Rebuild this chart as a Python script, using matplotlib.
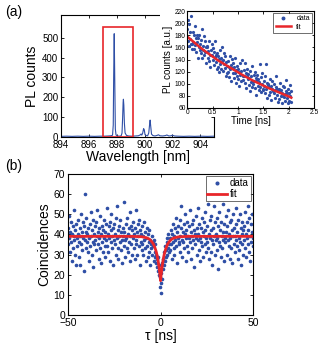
import matplotlib
matplotlib.use("Agg")
import matplotlib.pyplot as plt
from matplotlib.patches import Rectangle

plt.rcParams["font.family"] = ["Liberation Sans", "DejaVu Sans"]
plt.rcParams["xtick.direction"] = "in"
plt.rcParams["ytick.direction"] = "in"
plt.rcParams["axes.linewidth"] = 0.8

BLUE = "#2f4fa6"
RED = "#e8262a"

# --- (a) PL spectrum ---
wavelength_nm = [
    894.0, 894.4, 894.8, 895.2, 895.6, 896.0, 896.4, 896.8, 897.1, 897.4,
    897.6, 897.7, 897.75, 897.78, 897.82, 897.86, 897.9, 897.95, 898.05,
    898.2, 898.32, 898.38, 898.42, 898.46, 898.48, 898.51, 898.55, 898.6,
    898.7, 898.85, 899.1, 899.35, 899.55, 899.68, 899.75, 899.8, 899.86,
    899.93, 899.98, 900.03, 900.12, 900.22, 900.3, 900.36, 900.4, 900.44,
    900.5, 900.6, 900.75, 900.9, 901.0, 901.1, 901.3, 901.5, 901.6, 901.75,
    901.9, 902.0, 902.15, 902.4, 902.8, 903.2, 903.6, 904.0, 904.5, 905.0,
]
pl_counts = [
    3, 4, 3, 4, 3, 4, 3, 4, 4, 5,
    6, 9, 60, 300, 520, 280, 40, 10, 5,
    4, 6, 20, 90, 175, 190, 160, 70, 20,
    8, 5, 4, 5, 6, 10, 15, 9, 18,
    42, 36, 12, 7, 6, 20, 62, 85, 55,
    14, 7, 5, 8, 11, 6, 5, 7, 10, 5,
    6, 9, 5, 4, 3, 4, 3, 4, 3, 4,
]
box_wl = (897.0, 899.2)
box_top = 555

# --- (a) inset: PL decay ---
time_ns = [
    0.00, 0.01, 0.02, 0.03, 0.04, 0.05, 0.06, 0.07, 0.08, 0.09,
    0.10, 0.11, 0.12, 0.13, 0.14, 0.15, 0.16, 0.17, 0.18, 0.19,
    0.20, 0.21, 0.22, 0.23, 0.24, 0.25, 0.26, 0.27, 0.28, 0.29,
    0.30, 0.31, 0.32, 0.33, 0.34, 0.35, 0.36, 0.37, 0.38, 0.39,
    0.40, 0.41, 0.42, 0.43, 0.44, 0.45, 0.46, 0.47, 0.48, 0.49,
    0.50, 0.51, 0.52, 0.53, 0.54, 0.55, 0.56, 0.57, 0.58, 0.59,
    0.60, 0.61, 0.62, 0.63, 0.64, 0.65, 0.66, 0.67, 0.68, 0.69,
    0.70, 0.71, 0.72, 0.73, 0.74, 0.75, 0.76, 0.77, 0.78, 0.79,
    0.80, 0.81, 0.82, 0.83, 0.84, 0.85, 0.86, 0.87, 0.88, 0.89,
    0.90, 0.91, 0.92, 0.93, 0.94, 0.95, 0.96, 0.97, 0.98, 0.99,
    1.00, 1.01, 1.02, 1.03, 1.04, 1.05, 1.06, 1.07, 1.08, 1.09,
    1.10, 1.11, 1.12, 1.13, 1.14, 1.15, 1.16, 1.17, 1.18, 1.19,
    1.20, 1.21, 1.22, 1.23, 1.24, 1.25, 1.26, 1.27, 1.28, 1.29,
    1.30, 1.31, 1.32, 1.33, 1.34, 1.35, 1.36, 1.37, 1.38, 1.39,
    1.40, 1.41, 1.42, 1.43, 1.44, 1.45, 1.46, 1.47, 1.48, 1.49,
    1.50, 1.51, 1.52, 1.53, 1.54, 1.55, 1.56, 1.57, 1.58, 1.59,
    1.60, 1.61, 1.62, 1.63, 1.64, 1.65, 1.66, 1.67, 1.68, 1.69,
    1.70, 1.71, 1.72, 1.73, 1.74, 1.75, 1.76, 1.77, 1.78, 1.79,
    1.80, 1.81, 1.82, 1.83, 1.84, 1.85, 1.86, 1.87, 1.88, 1.89,
    1.90, 1.91, 1.92, 1.93, 1.94, 1.95, 1.96, 1.97, 1.98, 1.99,
    2.00, 2.01, 2.02, 2.03, 2.04, 2.05,
]
decay_counts = [
    190, 170, 205, 163, 198, 174, 185, 166, 212, 158,
    165, 185, 169, 180, 158, 196, 164, 175, 152, 181,
    169, 143, 175, 161, 180, 155, 166, 150, 172, 190,
    143, 163, 156, 179, 147, 170, 152, 160, 134, 161,
    163, 143, 154, 137, 171, 148, 127, 155, 147, 166,
    139, 159, 131, 152, 144, 170, 136, 147, 124, 150,
    146, 128, 141, 119, 155, 133, 142, 125, 138, 160,
    121, 140, 133, 150, 126, 145, 112, 136, 129, 118,
    137, 120, 128, 111, 146, 125, 131, 104, 126, 141,
    118, 135, 110, 127, 142, 117, 123, 102, 130, 113,
    125, 108, 119, 96, 134, 114, 121, 105, 140, 112,
    106, 122, 113, 135, 101, 117, 93, 112, 125, 108,
    116, 98, 109, 88, 121, 103, 112, 95, 130, 104,
    99, 114, 104, 120, 93, 109, 82, 106, 115, 97,
    108, 90, 103, 132, 95, 111, 86, 100, 118, 92,
    89, 105, 96, 113, 84, 133, 92, 101, 76, 98,
    99, 82, 94, 108, 86, 97, 73, 91, 104, 88,
    84, 100, 90, 77, 95, 112, 81, 92, 70, 88,
    92, 75, 87, 101, 80, 89, 68, 85, 97, 79,
    78, 94, 83, 71, 88, 106, 76, 84, 69, 91,
    85, 72, 98, 79, 70, 88,
]
decay_fit_t = [0.0, 0.1, 0.2, 0.3, 0.4, 0.5, 0.6, 0.7, 0.8, 0.9, 1.0,
               1.1, 1.2, 1.3, 1.4, 1.5, 1.6, 1.7, 1.8, 1.9, 2.0, 2.05]
decay_fit = [178, 171, 164, 157, 151, 145, 139, 134, 129, 124, 119,
             114, 109.5, 105, 101, 97, 93, 89.5, 86, 82.5, 79, 77]

# --- (b) g2 coincidences ---
tau_ns = [
    -50, -49.75, -49.5, -49.25, -49, -48.75, -48.5, -48.25, -48, -47.75,
    -47.5, -47.25, -47, -46.75, -46.5, -46.25, -46, -45.75, -45.5, -45.25,
    -45, -44.75, -44.5, -44.25, -44, -43.75, -43.5, -43.25, -43, -42.75,
    -42.5, -42.25, -42, -41.75, -41.5, -41.25, -41, -40.75, -40.5, -40.25,
    -40, -39.75, -39.5, -39.25, -39, -38.75, -38.5, -38.25, -38, -37.75,
    -37.5, -37.25, -37, -36.75, -36.5, -36.25, -36, -35.75, -35.5, -35.25,
    -35, -34.75, -34.5, -34.25, -34, -33.75, -33.5, -33.25, -33, -32.75,
    -32.5, -32.25, -32, -31.75, -31.5, -31.25, -31, -30.75, -30.5, -30.25,
    -30, -29.75, -29.5, -29.25, -29, -28.75, -28.5, -28.25, -28, -27.75,
    -27.5, -27.25, -27, -26.75, -26.5, -26.25, -26, -25.75, -25.5, -25.25,
    -25, -24.75, -24.5, -24.25, -24, -23.75, -23.5, -23.25, -23, -22.75,
    -22.5, -22.25, -22, -21.75, -21.5, -21.25, -21, -20.75, -20.5, -20.25,
    -20, -19.75, -19.5, -19.25, -19, -18.75, -18.5, -18.25, -18, -17.75,
    -17.5, -17.25, -17, -16.75, -16.5, -16.25, -16, -15.75, -15.5, -15.25,
    -15, -14.75, -14.5, -14.25, -14, -13.75, -13.5, -13.25, -13, -12.75,
    -12.5, -12.25, -12, -11.75, -11.5, -11.25, -11, -10.75, -10.5, -10.25,
    -10, -9.75, -9.5, -9.25, -9, -8.75, -8.5, -8.25, -8, -7.75,
    -7.5, -7.25, -7, -6.75, -6.5, -6.25, -6, -5.75, -5.5, -5.25,
    -5, -4.75, -4.5, -4.25, -4, -3.75, -3.5, -3.25, -3, -2.75,
    -2.5, -2.25, -2, -1.75, -1.5, -1.25, -1, -0.75, -0.5, -0.25,
    0,
    0.25, 0.5, 0.75, 1, 1.25, 1.5, 1.75, 2, 2.25, 2.5,
    2.75, 3, 3.25, 3.5, 3.75, 4, 4.25, 4.5, 4.75,
    5, 5.25, 5.5, 5.75, 6, 6.25, 6.5, 6.75, 7, 7.25,
    7.5, 7.75, 8, 8.25, 8.5, 8.75, 9, 9.25, 9.5, 9.75,
    10, 10.25, 10.5, 10.75, 11, 11.25, 11.5, 11.75, 12, 12.25,
    12.5, 12.75, 13, 13.25, 13.5, 13.75, 14, 14.25, 14.5, 14.75,
    15, 15.25, 15.5, 15.75, 16, 16.25, 16.5, 16.75, 17, 17.25,
    17.5, 17.75, 18, 18.25, 18.5, 18.75, 19, 19.25, 19.5, 19.75,
    20, 20.25, 20.5, 20.75, 21, 21.25, 21.5, 21.75, 22, 22.25,
    22.5, 22.75, 23, 23.25, 23.5, 23.75, 24, 24.25, 24.5, 24.75,
    25, 25.25, 25.5, 25.75, 26, 26.25, 26.5, 26.75, 27, 27.25,
    27.5, 27.75, 28, 28.25, 28.5, 28.75, 29, 29.25, 29.5, 29.75,
    30, 30.25, 30.5, 30.75, 31, 31.25, 31.5, 31.75, 32, 32.25,
    32.5, 32.75, 33, 33.25, 33.5, 33.75, 34, 34.25, 34.5, 34.75,
    35, 35.25, 35.5, 35.75, 36, 36.25, 36.5, 36.75, 37, 37.25,
    37.5, 37.75, 38, 38.25, 38.5, 38.75, 39, 39.25, 39.5, 39.75,
    40, 40.25, 40.5, 40.75, 41, 41.25, 41.5, 41.75, 42, 42.25,
    42.5, 42.75, 43, 43.25, 43.5, 43.75, 44, 44.25, 44.5, 44.75,
    45, 45.25, 45.5, 45.75, 46, 46.25, 46.5, 46.75, 47, 47.25,
    47.5, 47.75, 48, 48.25, 48.5, 48.75, 49, 49.25, 49.5, 49.75, 50,
]
coincidences = [
    43, 35, 49, 38, 31, 41, 46, 36, 27, 40, 44, 33, 39, 52, 37, 30, 42, 25, 45, 38,
    34, 47, 40, 29, 36, 43, 25, 39, 50, 35, 41, 32, 46, 38, 22, 44, 37, 60, 33, 41,
    48, 36, 40, 31, 43, 38, 27, 45, 34, 51, 39, 30, 42, 36, 47, 24, 40, 35, 44, 37,
    32, 46, 39, 52, 35, 41, 28, 43, 38, 33, 49, 40, 26, 44, 36, 42, 31, 47, 38, 34,
    41, 29, 45, 37, 53, 34, 40, 31, 44, 38, 27, 46, 36, 42, 50, 33, 39, 25, 43, 37,
    45, 35, 40, 30, 48, 38, 54, 33, 42, 28, 39, 44, 36, 47, 32, 41, 37, 26, 43, 39,
    56, 34, 41, 37, 29, 45, 38, 33, 48, 40, 31, 43, 36, 51, 39, 27, 44, 35, 42, 30,
    38, 46, 33, 40, 28, 43, 37, 52, 35, 41, 30, 45, 39, 34, 47, 25, 42, 36, 40, 32,
    44, 35, 39, 30, 46, 37, 33, 41, 27, 38, 43, 34, 40, 29, 36, 42, 31, 37, 25, 35,
    33, 39, 30, 36, 34, 27, 37, 31, 29, 35, 26, 30, 28, 24, 29, 22, 25, 20, 19, 14,
    16,
    11, 21, 18, 26, 23, 28, 25, 31, 27, 34, 29, 32, 38, 30, 36, 33, 40, 35, 31,
    38, 32, 42, 35, 28, 40, 36, 45, 33, 39, 30, 43, 37, 48, 34, 41, 26, 38, 44, 36,
    35, 47, 39, 31, 43, 54, 37, 29, 41, 36, 45, 33, 40, 50, 38, 27, 42, 34, 46, 39,
    31, 44, 38, 52, 36, 41, 28, 45, 39, 33, 47, 37, 42, 24, 40, 35, 49, 38, 30, 43,
    37, 53, 40, 32, 45, 38, 27, 43, 36, 48, 34, 41, 29, 46, 39, 35, 51, 42, 31, 38,
    44, 36, 55, 33, 40, 28, 47, 38, 42, 31, 49, 37, 25, 43, 35, 54, 39, 30, 46, 37,
    40, 32, 48, 38, 23, 44, 36, 51, 34, 42, 29, 46, 39, 33, 55, 37, 41, 27, 45, 38,
    36, 49, 41, 30, 44, 37, 52, 34, 40, 28, 46, 38, 33, 47, 42, 26, 39, 50, 35, 43,
    39, 31, 45, 37, 53, 34, 41, 28, 47, 38, 32, 50, 36, 43, 25, 40, 46, 35, 42, 30,
    44, 37, 51, 33, 40, 29, 46, 38, 54, 35, 42, 31, 48, 39, 27, 45, 36, 50, 41, 34, 38,
]
g2_fit_tau = [-50, -15, -10, -8, -7, -6, -5, -4, -3.5, -3, -2.5, -2, -1.75, -1.5,
              -1.25, -1, -0.75, -0.5, -0.25, 0, 0.25, 0.5, 0.75, 1, 1.25, 1.5,
              1.75, 2, 2.5, 3, 3.5, 4, 5, 6, 7, 8, 10, 15, 50]
g2_fit = [39, 39, 38.8, 38.4, 38.1, 37.6, 36.7, 35.4, 34.5, 33.3, 31.9, 30.1, 29.0,
          27.8, 26.5, 24.9, 23.3, 21.5, 19.4, 17, 19.4, 21.5, 23.3, 24.9, 26.5,
          27.8, 29.0, 30.1, 31.9, 33.3, 34.5, 35.4, 36.7, 37.6, 38.1, 38.4, 38.8,
          39, 39]


def style_axes(ax, tick_size):
    ax.tick_params(top=True, right=True, labelsize=tick_size, length=2.5,
                   width=0.6, pad=2)


fig = plt.figure(figsize=(3.3, 3.45), dpi=100)

# main spectrum axes
ax_a = fig.add_axes([0.185, 0.603, 0.464, 0.354])
ax_a.plot(wavelength_nm, pl_counts, color=BLUE, lw=0.8)
ax_a.add_patch(Rectangle((box_wl[0], 0), box_wl[1] - box_wl[0], box_top,
                         fill=False, edgecolor=RED, lw=1.2, zorder=3))
ax_a.set_xlim(894, 905)
ax_a.set_ylim(0, 615)
ax_a.set_xticks([894, 896, 898, 900, 902, 904])
ax_a.set_yticks([0, 100, 200, 300, 400, 500])
style_axes(ax_a, 7)
ax_a.set_xlabel("Wavelength [nm]", fontsize=10, labelpad=0)
ax_a.set_ylabel("PL counts", fontsize=10, labelpad=2)

# white patches hiding the main frame behind the inset labels
fig.patches.append(Rectangle((0.485, 0.69), 0.085, 0.28, transform=fig.transFigure,
                             facecolor="white", edgecolor="none", zorder=2))
fig.patches.append(Rectangle((0.56, 0.662), 0.12, 0.03, transform=fig.transFigure,
                             facecolor="white", edgecolor="none", zorder=2))

# inset decay axes
ax_in = fig.add_axes([0.567, 0.687, 0.385, 0.281])
ax_in.set_zorder(3)
ax_in.plot(time_ns, decay_counts, ".", color=BLUE, ms=2.6, label="data")
ax_in.plot(decay_fit_t, decay_fit, color=RED, lw=1.8, label="fit")
ax_in.set_xlim(0, 2.5)
ax_in.set_ylim(60, 220)
ax_in.set_xticks([0, 0.5, 1, 1.5, 2, 2.5])
ax_in.set_xticklabels(["0", "0.5", "1", "1.5", "2", "2.5"])
ax_in.set_yticks([60, 80, 100, 120, 140, 160, 180, 200, 220])
style_axes(ax_in, 4.8)
ax_in.tick_params(length=1.8, pad=1)
ax_in.set_xlabel("Time [ns]", fontsize=7, labelpad=0)
ax_in.set_ylabel("PL counts [a.u.]", fontsize=7, labelpad=1)
leg = ax_in.legend(loc="upper right", fontsize=5, frameon=True, fancybox=False,
                   edgecolor="black", borderpad=0.3, handlelength=2.2,
                   labelspacing=0.2, markerscale=1.4, borderaxespad=0.3)
leg.get_frame().set_linewidth(0.5)

# (b) coincidence histogram
ax_b = fig.add_axes([0.206, 0.087, 0.561, 0.409])
ax_b.plot(tau_ns, coincidences, ".", color=BLUE, ms=3.2, label="data")
ax_b.plot(g2_fit_tau, g2_fit, color=RED, lw=2.0, label="fit")
ax_b.set_xlim(-50, 50)
ax_b.set_ylim(0, 70)
ax_b.set_xticks([-50, 0, 50])
ax_b.set_yticks([0, 10, 20, 30, 40, 50, 60, 70])
style_axes(ax_b, 7.5)
ax_b.set_xlabel("τ [ns]", fontsize=10, labelpad=1)
ax_b.set_ylabel("Coincidences", fontsize=10, labelpad=2)
leg_b = ax_b.legend(loc="upper right", fontsize=7, frameon=True, fancybox=False,
                    edgecolor="black", borderpad=0.2, handlelength=2.0,
                    labelspacing=0.1, markerscale=1.2, borderaxespad=0.25,
                    handletextpad=0.3)
leg_b.get_frame().set_linewidth(0.5)

fig.text(0.015, 0.985, "(a)", fontsize=10, va="top")
fig.text(0.015, 0.54, "(b)", fontsize=10, va="top")

fig.savefig("out.png", dpi=100)
